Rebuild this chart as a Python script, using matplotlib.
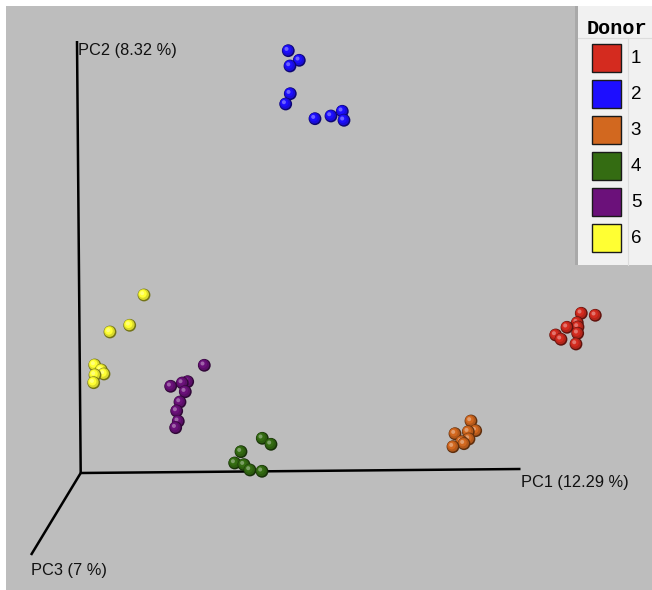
import matplotlib
matplotlib.use("Agg")
import matplotlib.pyplot as plt
from matplotlib.patches import Rectangle
import numpy as np
from matplotlib.colors import to_rgb

# ---- data: projected screen positions of samples ----
donors = ["1", "2", "3", "4", "5", "6"]
donor_colors = ["#d42b1f", "#1d0eff", "#d2681f", "#346c12", "#6b117a", "#ffff33"]

d1_x = [581.3, 595.3, 567.0, 577.3, 578.0, 577.7, 555.7, 561.0, 576.0]
d1_y = [313.3, 315.3, 327.3, 322.7, 327.0, 333.3, 335.0, 339.3, 344.0]
d2_x = [288.3, 299.3, 290.0, 290.3, 285.7, 315.0, 331.0, 342.3, 344.0]
d2_y = [50.7, 60.3, 66.0, 93.7, 104.0, 118.7, 116.0, 111.3, 120.3]
d3_x = [471.0, 455.0, 468.3, 475.7, 469.0, 461.7, 464.0, 453.0]
d3_y = [421.0, 433.7, 431.7, 430.7, 439.0, 441.7, 443.7, 446.7]
d4_x = [262.3, 271.0, 241.0, 234.7, 244.0, 250.0, 262.0]
d4_y = [438.3, 444.3, 451.7, 463.0, 464.7, 470.0, 471.3]
d5_x = [204.3, 170.7, 187.7, 182.3, 185.3, 180.0, 176.7, 178.3, 175.7]
d5_y = [365.3, 386.3, 381.7, 383.0, 391.7, 402.0, 411.0, 421.3, 427.7]
d6_x = [144.0, 129.7, 110.0, 94.7, 101.3, 95.0, 104.0, 93.7]
d6_y = [295.0, 325.3, 332.0, 365.0, 370.0, 375.0, 374.0, 382.7]

groups_x = [d1_x, d2_x, d3_x, d4_x, d5_x, d6_x]
groups_y = [d1_y, d2_y, d3_y, d4_y, d5_y, d6_y]

axis_labels = ["PC1 (12.29 %)", "PC2 (8.32 %)", "PC3 (7 %)"]
origin = (80.7, 473.0)
pc1_end = (520.5, 469.0)
pc2_end = (77.0, 41.0)
pc3_end = (31.0, 555.0)

legend_title = "Donor"

# ---- figure ----
W, H = 652, 590
fig = plt.figure(figsize=(W / 100, H / 100), dpi=100)
fig.patch.set_facecolor("white")
ax = fig.add_axes([0, 0, 1, 1])
ax.set_xlim(0, W)
ax.set_ylim(H, 0)
ax.axis("off")

bg = "#bdbdbd"
ax.add_patch(Rectangle((6, 6), W - 6, H - 6, facecolor=bg, edgecolor="none", zorder=0))

# axes lines
for end in (pc1_end, pc2_end, pc3_end):
    ax.plot([origin[0], end[0]], [origin[1], end[1]], color="black", lw=1.8,
            solid_capstyle="butt", zorder=1)

lab_font = ["Liberation Sans", "DejaVu Sans"]
ax.text(pc1_end[0] + 0.5, pc1_end[1] + 13, axis_labels[0], fontsize=11.8, family=lab_font,
        ha="left", va="center", color="#111111", zorder=2)
ax.text(pc2_end[0] + 1.5, pc2_end[1] + 9, axis_labels[1], fontsize=11.8, family=lab_font,
        ha="left", va="center", color="#111111", zorder=2)
ax.text(pc3_end[0], pc3_end[1] + 15, axis_labels[2], fontsize=11.8, family=lab_font,
        ha="left", va="center", color="#111111", zorder=2)


def shade(c, f):
    r, g, b = to_rgb(c)
    return (r * f, g * f, b * f)


def tint(c, f):
    r, g, b = to_rgb(c)
    return (r + (1 - r) * f, g + (1 - g) * f, b + (1 - b) * f)


S = 85
z = 3
for xs, ys, col in zip(groups_x, groups_y, donor_colors):
    order = np.argsort(ys)
    for i in order:
        x, y = xs[i], ys[i]
        ax.scatter([x], [y], s=S, color=shade(col, 0.45), edgecolors="none", zorder=z)
        ax.scatter([x - 0.5], [y - 0.5], s=S * 0.72, color=shade(col, 0.85), edgecolors="none", zorder=z + 0.1)
        ax.scatter([x - 1.2], [y - 1.2], s=S * 0.38, color=col, edgecolors="none", zorder=z + 0.2)
        ax.scatter([x - 1.8], [y - 1.8], s=S * 0.1, color=tint(col, 0.35), edgecolors="none", zorder=z + 0.3)
        z += 0.5

# ---- legend ----
lz = 100
ax.add_patch(Rectangle((575, 6), 4, 259, facecolor="#a9a9a9", edgecolor="none", zorder=lz))
ax.add_patch(Rectangle((578, 6), W - 578, 259, facecolor="#f1f1f1", edgecolor="none", zorder=lz))
ax.plot([578, W], [38, 38], color="#dcdcdc", lw=0.8, zorder=lz + 1)
ax.plot([627.5, 627.5], [38, 265], color="#dcdcdc", lw=0.8, zorder=lz + 1)
ax.text(617, 28, legend_title, fontsize=14.5, family=["Liberation Mono", "DejaVu Sans Mono"],
        fontweight="bold", ha="center", va="center", color="black", zorder=lz + 2)
for k, (name, col) in enumerate(zip(donors, donor_colors)):
    y0 = 43.5 + 36 * k
    ax.add_patch(Rectangle((592, y0), 28.5, 28.5, facecolor=col, edgecolor="#1a1a1a",
                           lw=1.0, zorder=lz + 2))
    ax.text(636, y0 + 15, name, fontsize=13.5, family=lab_font, ha="center", va="center",
            color="black", zorder=lz + 2)

fig.savefig("out.png", dpi=100, facecolor=fig.get_facecolor())
